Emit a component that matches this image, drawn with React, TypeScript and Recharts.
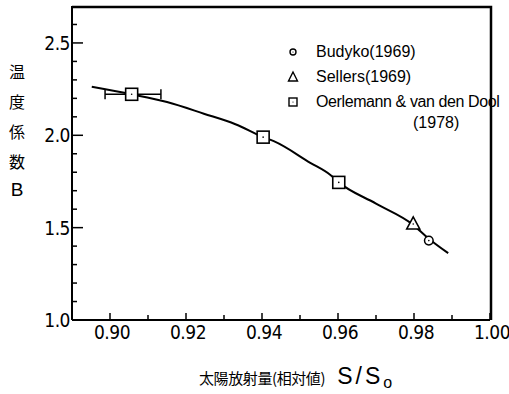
import React from 'react';
import { ComposedChart, Line, Scatter, XAxis, YAxis, ErrorBar } from 'recharts';

// ---- data ----
const curveX = [0.8952, 0.9057, 0.915, 0.9247, 0.933, 0.9403, 0.9431, 0.9527, 0.958, 0.9602, 0.97, 0.9798, 0.9839, 0.989];
const curveY = [2.263, 2.222, 2.18, 2.117, 2.06, 1.99, 1.968, 1.851, 1.785, 1.745, 1.63, 1.515, 1.44, 1.362];

const oerlemannX = [0.9057, 0.9403, 0.9602];
const oerlemannY = [2.222, 1.99, 1.745];
const oerlemannErr: ([number, number] | null)[] = [[0.007, 0.0077], null, null];

const sellersX = [0.9798];
const sellersY = [1.52];

const budykoX = [0.9839];
const budykoY = [1.43];

const xDomain = [0.89, 1.0];
const yDomain = [1.0, 2.7];
const xTicks = [0.89, 0.9, 0.91, 0.92, 0.93, 0.94, 0.95, 0.96, 0.97, 0.98, 0.99, 1.0];
const xMajor = [0.9, 0.92, 0.94, 0.96, 0.98, 1.0];
const xMajorLabels = ['0.90', '0.92', '0.94', '0.96', '0.98', '1.00'];

const yTicks = [1.0, 1.1, 1.2, 1.3, 1.4, 1.5, 1.6, 1.7, 1.8, 1.9, 2.0, 2.1, 2.2, 2.3, 2.4, 2.5, 2.6];
const yMajor = [1.0, 1.5, 2.0, 2.5];
const yMajorLabels = ['1.0', '1.5', '2.0', '2.5'];

const legendLabels = ['Budyko(1969)', 'Sellers(1969)', 'Oerlemann & van den Dool', '(1978)'];
const yTitleChars = ['温', '度', '係', '数', 'B'];
const xTitleJa = '太陽放射量(相対値)';
const xTitleSym = 'S/S';
const xTitleSub = 'o';

// ---- build series ----
const curveData = curveX.map((x, i) => ({ x, y: curveY[i] }));
const oerErrData = oerlemannX
  .map((x, i) => ({ x, y: oerlemannY[i], err: oerlemannErr[i] }))
  .filter((d) => d.err !== null);
const oerData = oerlemannX.map((x, i) => ({ x, y: oerlemannY[i] }));
const sellersData = sellersX.map((x, i) => ({ x, y: sellersY[i] }));
const budykoData = budykoX.map((x, i) => ({ x, y: budykoY[i] }));

const INK = '#000';
const NUM_FONT = '"Liberation Sans Narrow", "DejaVu Sans Condensed", "Liberation Sans", sans-serif';
const TXT_FONT = '"Liberation Sans", "DejaVu Sans", sans-serif';
const CJK_FONT = '"Noto Sans CJK JP", "Noto Sans CJK SC", sans-serif';

const near = (a: number, b: number) => Math.abs(a - b) < 1e-6;

const XTick = (props: any) => {
  const { x, y, payload } = props;
  const v = payload.value;
  const idx = xMajor.findIndex((m) => near(m, v));
  const major = idx >= 0;
  return (
    <g>
      <line x1={x} x2={x} y1={y} y2={y - (major ? 7 : 5)} stroke={INK} strokeWidth={1.5} />
      {major && (
        <text x={x + 2} y={y + 19} textAnchor="middle" fontFamily={NUM_FONT} fontSize={19} fill={INK} letterSpacing={-0.5}>
          {xMajorLabels[idx]}
        </text>
      )}
    </g>
  );
};

const YTick = (props: any) => {
  const { x, y, payload } = props;
  const v = payload.value;
  const idx = yMajor.findIndex((m) => near(m, v));
  const major = idx >= 0;
  return (
    <g>
      <line x1={x} x2={x + (major ? 11 : 5)} y1={y} y2={y} stroke={INK} strokeWidth={1.5} />
      {major && (
        <text x={x - 2} y={y + 7} textAnchor="end" fontFamily={NUM_FONT} fontSize={19} fill={INK} letterSpacing={-0.5}>
          {yMajorLabels[idx]}
        </text>
      )}
    </g>
  );
};

const SquareShape = (props: any) => {
  const { cx, cy } = props;
  return (
    <g>
      <rect x={cx - 6} y={cy - 6} width={12} height={12} fill="#fff" stroke={INK} strokeWidth={1.6} />
      <circle cx={cx} cy={cy} r={0.8} fill={INK} />
    </g>
  );
};

const TriangleShape = (props: any) => {
  const { cx, cy } = props;
  return (
    <g>
      <polygon points={`${cx},${cy - 7} ${cx - 6.5},${cy + 5} ${cx + 6.5},${cy + 5}`} fill="#fff" stroke={INK} strokeWidth={1.6} />
      <circle cx={cx} cy={cy} r={0.8} fill={INK} />
    </g>
  );
};

const CircleShape = (props: any) => {
  const { cx, cy } = props;
  return (
    <g>
      <circle cx={cx} cy={cy} r={4.3} fill="#fff" stroke={INK} strokeWidth={1.5} />
      <circle cx={cx} cy={cy} r={0.8} fill={INK} />
    </g>
  );
};

const LegendBox = () => (
  <div style={{ position: 'absolute', left: 280, top: 40, width: 205, height: 100 }}>
    <svg width={205} height={100} style={{ overflow: 'visible' }}>
      <g>
        <circle cx={13} cy={12} r={3} fill="#fff" stroke={INK} strokeWidth={1.4} />
        <circle cx={13} cy={12} r={0.6} fill={INK} />
        <text x={36} y={17} fontFamily={TXT_FONT} fontSize={16} fill={INK}>{legendLabels[0]}</text>
      </g>
      <g>
        <polygon points="13,32 8.5,41 17.5,41" fill="#fff" stroke={INK} strokeWidth={1.4} />
        <text x={36} y={42} fontFamily={TXT_FONT} fontSize={16} fill={INK}>{legendLabels[1]}</text>
      </g>
      <g>
        <rect x={9} y={58} width={8} height={8} fill="#fff" stroke={INK} strokeWidth={1.4} />
        <circle cx={13} cy={62} r={0.6} fill={INK} />
        <text x={36} y={67} fontFamily={TXT_FONT} fontSize={16} fill={INK} letterSpacing={-0.4}>{legendLabels[2]}</text>
      </g>
      <text x={133} y={88} fontFamily={TXT_FONT} fontSize={16} fill={INK}>{legendLabels[3]}</text>
    </svg>
  </div>
);

export default function App() {
  return (
    <div style={{ position: 'absolute', left: 0, top: 0, width: 509, height: 394, background: '#fff' }}>
      <ComposedChart
        width={509}
        height={394}
        margin={{ top: 6, right: 19, bottom: 0, left: 0 }}
        style={{ position: 'absolute', left: 0, top: 0 }}
      >
        <XAxis
          xAxisId="b"
          dataKey="x"
          type="number"
          domain={xDomain}
          ticks={xTicks}
          interval={0}
          orientation="bottom"
          height={74}
          tickSize={0}
          tickMargin={0}
          tickLine={false}
          tick={<XTick />}
          axisLine={{ stroke: INK, strokeWidth: 2 }}
          allowDataOverflow
        />
        <YAxis
          yAxisId="l"
          dataKey="y"
          type="number"
          domain={yDomain}
          ticks={yTicks}
          interval={0}
          orientation="left"
          width={72}
          tickSize={0}
          tickMargin={0}
          tickLine={false}
          tick={<YTick />}
          axisLine={{ stroke: INK, strokeWidth: 2 }}
          allowDataOverflow
        />
        <Line
          xAxisId="b"
          yAxisId="l"
          data={curveData}
          dataKey="y"
          type="monotone"
          stroke={INK}
          strokeWidth={2}
          dot={false}
          activeDot={false}
          isAnimationActive={false}
        />
        <Scatter
          xAxisId="b"
          yAxisId="l"
          data={oerErrData}
          dataKey="y"
          shape={() => <g />}
          isAnimationActive={false}
        >
          <ErrorBar dataKey="err" direction="x" width={5} stroke={INK} strokeWidth={1.5} isAnimationActive={false} />
        </Scatter>
        <Scatter xAxisId="b" yAxisId="l" data={oerData} dataKey="y" shape={<SquareShape />} isAnimationActive={false} />
        <Scatter xAxisId="b" yAxisId="l" data={sellersData} dataKey="y" shape={<TriangleShape />} isAnimationActive={false} />
        <Scatter xAxisId="b" yAxisId="l" data={budykoData} dataKey="y" shape={<CircleShape />} isAnimationActive={false} />
      </ComposedChart>

      <LegendBox />

      {/* plot frame: top and right borders */}
      <svg
        width={509}
        height={394}
        style={{ position: 'absolute', left: 0, top: 0, pointerEvents: 'none' }}
      >
        <polyline points="72,7 491,7 491,320" fill="none" stroke={INK} strokeWidth={2.5} />
      </svg>

      {yTitleChars.map((c, i) => (
        <div
          key={i}
          style={{
            position: 'absolute',
            left: 7,
            top: [61, 91, 121, 151, 180][i],
            width: 20,
            textAlign: 'center',
            fontFamily: c === 'B' ? TXT_FONT : CJK_FONT,
            fontSize: c === 'B' ? 19 : 16,
            lineHeight: '20px',
            color: INK,
          }}
        >
          {c}
        </div>
      ))}

      <div
        style={{
          position: 'absolute',
          left: 199,
          top: 364,
          whiteSpace: 'nowrap',
          color: INK,
          lineHeight: '24px',
        }}
      >
        <span style={{ fontFamily: CJK_FONT, fontSize: 15, letterSpacing: -0.4 }}>{xTitleJa}</span>
        <span style={{ fontFamily: TXT_FONT, fontSize: 23, marginLeft: 12, letterSpacing: 3 }}>{xTitleSym}</span>
        <span style={{ fontFamily: TXT_FONT, fontSize: 16, position: 'relative', top: 4 }}>{xTitleSub}</span>
      </div>
    </div>
  );
}
